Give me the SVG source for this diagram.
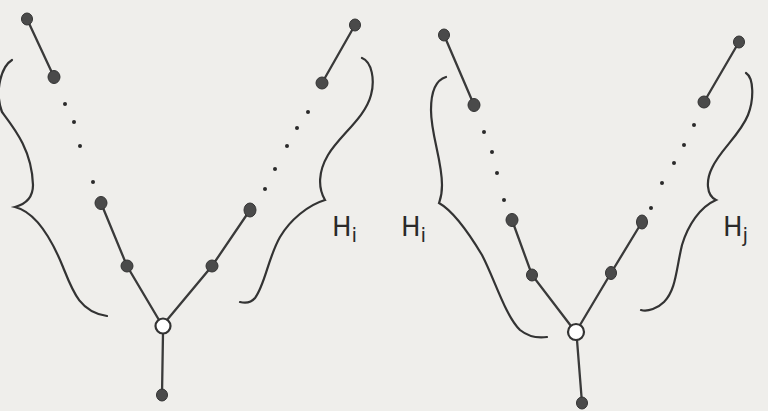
<svg xmlns="http://www.w3.org/2000/svg" width="768" height="411" viewBox="0 0 768 411">
<style>
.e{stroke:#3a3a3a;stroke-width:2.3;fill:none;stroke-linecap:round}
.b{stroke:#333;stroke-width:2.2;fill:none;stroke-linecap:round}
.n{fill:#4a4a4a;stroke:#333;stroke-width:1}
.r{fill:#fff;stroke:#333;stroke-width:2.2}
.d{fill:#2a2a2a}
.t{font-family:"DejaVu Sans",sans-serif;font-size:26px;fill:#2a2a2a}
.s{font-size:20px}
</style>
<rect width="768" height="411" fill="#efeeeb"/>
<g id="connectors">
<path class="e" d="M27,19L54,77"/>
<path class="e" d="M101,203L127,266L159,320"/>
<path class="e" d="M167,320L212,266L250,210"/>
<path class="e" d="M355,25L322,83"/>
<path class="e" d="M163,333L162,395"/>
<path class="e" d="M444,35L474,105"/>
<path class="e" d="M512,220L532,275L571,326"/>
<path class="e" d="M580,325L611,273L642,222"/>
<path class="e" d="M739,42L704,102"/>
<path class="e" d="M577,340L582,403"/>
</g>
<g id="dots">
<circle class="d" cx="65" cy="104" r="2"/><circle class="d" cx="74" cy="122" r="2"/><circle class="d" cx="80" cy="146" r="2"/><circle class="d" cx="93" cy="182" r="2"/>
<circle class="d" cx="308" cy="112" r="2"/><circle class="d" cx="297" cy="128" r="2"/><circle class="d" cx="287" cy="146" r="2"/><circle class="d" cx="275" cy="169" r="2"/><circle class="d" cx="265" cy="189" r="2"/>
<circle class="d" cx="484" cy="132" r="2"/><circle class="d" cx="492" cy="152" r="2"/><circle class="d" cx="497" cy="173" r="2"/><circle class="d" cx="504" cy="200" r="2"/>
<circle class="d" cx="694" cy="125" r="2"/><circle class="d" cx="684" cy="145" r="2"/><circle class="d" cx="674" cy="163" r="2"/><circle class="d" cx="662" cy="183" r="2"/><circle class="d" cx="651" cy="208" r="2"/>
</g>
<g id="tree1">
<g id="n1a"><ellipse class="n" cx="27" cy="19" rx="5.5" ry="6"/></g>
<g id="n1b"><ellipse class="n" cx="54" cy="77" rx="6" ry="6.5"/></g>
<g id="n1c"><ellipse class="n" cx="101" cy="203" rx="6" ry="6.5"/></g>
<g id="n1d"><ellipse class="n" cx="127" cy="266" rx="6" ry="6"/></g>
<g id="n1e"><ellipse class="n" cx="212" cy="266" rx="6" ry="6"/></g>
<g id="n1f"><ellipse class="n" cx="250" cy="210" rx="6" ry="7"/></g>
<g id="n1g"><ellipse class="n" cx="322" cy="83" rx="6" ry="6"/></g>
<g id="n1h"><ellipse class="n" cx="355" cy="25" rx="5.5" ry="6"/></g>
<g id="n1root"><circle class="r" cx="163" cy="326" r="7.5"/></g>
<g id="n1i"><ellipse class="n" cx="162" cy="395" rx="5.5" ry="6"/></g>
</g>
<g id="tree2">
<g id="n2a"><ellipse class="n" cx="444" cy="35" rx="5.5" ry="6"/></g>
<g id="n2b"><ellipse class="n" cx="474" cy="105" rx="6" ry="6.5"/></g>
<g id="n2c"><ellipse class="n" cx="512" cy="220" rx="6" ry="6.5"/></g>
<g id="n2d"><ellipse class="n" cx="532" cy="275" rx="5.5" ry="6"/></g>
<g id="n2e"><ellipse class="n" cx="611" cy="273" rx="5.5" ry="6.5"/></g>
<g id="n2f"><ellipse class="n" cx="642" cy="222" rx="5.5" ry="7"/></g>
<g id="n2g"><ellipse class="n" cx="704" cy="102" rx="6" ry="6"/></g>
<g id="n2h"><ellipse class="n" cx="739" cy="42" rx="5.5" ry="6"/></g>
<g id="n2root"><circle class="r" cx="576" cy="332" r="8"/></g>
<g id="n2i"><ellipse class="n" cx="582" cy="403" rx="5.5" ry="6"/></g>
</g>
<g id="braces">
<path class="b" d="M12,60C2,66 -6,90 2,112C14,128 32,150 33,185C33,198 26,204 15,207C35,212 50,235 63,267C73,292 80,312 107,316"/>
<path class="b" d="M362,58C372,62 375,80 371,95C365,118 340,135 328,155C318,172 318,188 325,200C308,205 290,220 280,237C268,258 265,285 255,298C250,304 244,303 240,302"/>
<path class="b" d="M446,77C436,80 431,92 431,110C431,135 442,160 442,185C442,196 440,200 439,203C455,212 470,235 482,255C495,280 505,315 520,330C530,338 540,338 547,337"/>
<path class="b" d="M746,73C754,78 754,100 748,115C740,135 720,150 712,168C706,180 706,195 716,200C700,207 688,225 682,245C676,270 676,290 664,302C658,308 648,312 641,310"/>
</g>
<g id="labels">
<text class="t" x="332" y="236">H<tspan class="s" dy="6">i</tspan></text>
<text class="t" x="401" y="236">H<tspan class="s" dy="6">i</tspan></text>
<text class="t" x="723" y="236">H<tspan class="s" dy="6">j</tspan></text>
</g>
</svg>
